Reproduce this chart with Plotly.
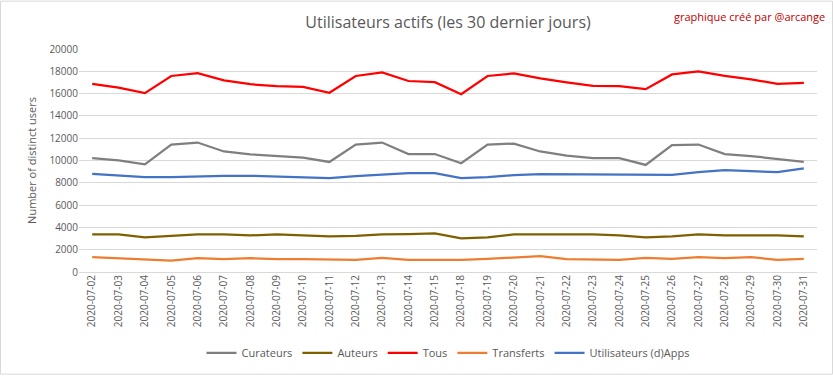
import plotly.graph_objects as go

dates = ["2020-07-02","2020-07-03","2020-07-04","2020-07-05","2020-07-06","2020-07-07",
         "2020-07-08","2020-07-09","2020-07-10","2020-07-11","2020-07-12","2020-07-13",
         "2020-07-14","2020-07-15","2020-07-18","2020-07-19","2020-07-20","2020-07-21",
         "2020-07-22","2020-07-23","2020-07-24","2020-07-25","2020-07-26","2020-07-27",
         "2020-07-28","2020-07-29","2020-07-30","2020-07-31"]

curateurs = [10220,10010,9660,11430,11610,10810,10550,10370,10250,9870,11430,11610,
             10580,10580,9750,11430,11520,10810,10430,10220,10220,9600,11380,11430,
             10580,10400,10130,9870]
auteurs = [3370,3370,3100,3220,3370,3370,3280,3370,3280,3190,3250,3370,
           3400,3460,3010,3100,3370,3370,3370,3370,3280,3100,3190,3370,
           3280,3280,3280,3190]
tous = [16870,16540,16040,17580,17840,17190,16840,16660,16600,16070,17580,17900,
        17130,17020,15950,17580,17810,17370,17010,16690,16660,16400,17720,17990,
        17580,17280,16870,16960]
transferts = [1330,1210,1120,1030,1240,1150,1240,1150,1150,1090,1090,1270,
              1090,1090,1090,1180,1330,1420,1150,1090,1090,1270,1180,1330,
              1240,1330,1090,1180]
apps = [8800,8630,8510,8510,8600,8630,8630,8540,8510,8420,8600,8710,
        8860,8860,8420,8510,8690,8770,8770,8770,8770,8710,8710,8950,
        9130,9040,8950,9300]

series = [
    ("Curateurs", curateurs, "#7f7f7f"),
    ("Auteurs", auteurs, "#7f6000"),
    ("Tous", tous, "#ff0000"),
    ("Transferts", transferts, "#ed7d31"),
    ("Utilisateurs (d)Apps", apps, "#4472c4"),
]

fig = go.Figure()
for name, vals, col in series:
    fig.add_trace(go.Scatter(x=dates, y=vals, name=name, mode="lines",
                             line=dict(color=col, width=2.25)))

W, H = 833, 379
ml, mr, mt, mb = 79, 16, 49, 104
pw, ph = W - ml - mr, H - mt - mb

fig.update_layout(
    width=W, height=H,
    margin=dict(l=ml, r=mr, t=mt, b=mb),
    paper_bgcolor="white", plot_bgcolor="white",
    font=dict(family="Open Sans, Liberation Sans, sans-serif", color="#595959", size=10),
    title=dict(text="Utilisateurs actifs (les 30 dernier jours)",
               x=0.5, xref="paper", y=1 - 22 / H, yanchor="middle",
               font=dict(size=16, color="#595959")),
    xaxis=dict(type="category", range=[-0.5, len(dates) - 0.5], tickangle=-90,
               showgrid=False, showline=False, ticks="",
               tickfont=dict(size=10, color="#595959")),
    yaxis=dict(range=[0, 20000], dtick=2000, tickformat="d", showgrid=True,
               gridcolor="#d9d9d9", gridwidth=1, zeroline=True,
               zerolinecolor="#d9d9d9", zerolinewidth=1,
               ticks="", tickfont=dict(size=10, color="#595959"),
               title=dict(text="Number of distinct users", standoff=10,
                          font=dict(size=11, color="#595959"))),
    legend=dict(orientation="h", x=0.5, xanchor="center", y=-(357 - 275) / ph,
                yanchor="middle", font=dict(size=11, color="#595959"),
                itemwidth=30),
    showlegend=True,
)

fig.add_annotation(text="graphique créé par @arcange", xref="paper", yref="paper",
                   x=(827 - ml) / pw, y=1 + (mt - 16) / ph, xanchor="right", yanchor="middle",
                   showarrow=False, font=dict(size=11, color="#c00000"))

fig.add_shape(type="rect", xref="paper", yref="paper",
              x0=(-ml + 0.5) / pw, x1=(W - ml - 0.5) / pw,
              y0=(-mb + 0.5) / ph, y1=(H - mb - 0.5) / ph,
              line=dict(color="#d9d9d9", width=1), layer="below")

fig.write_html("out.html", config={"displayModeBar": False},
               post_script="document.documentElement.style.margin='0';document.body.style.margin='0';document.body.style.padding='0';document.body.style.overflow='hidden';")
